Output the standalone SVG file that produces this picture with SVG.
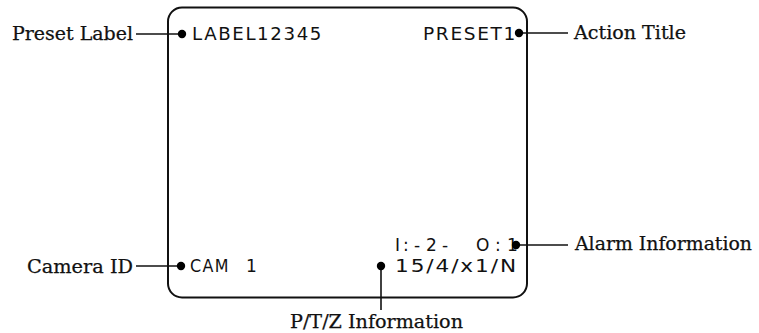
<svg xmlns="http://www.w3.org/2000/svg" width="759" height="333" viewBox="0 0 759 333">
<style>
.lbl{font-family:"DejaVu Serif","Liberation Serif",serif;font-size:18px;fill:#111;stroke:#111;stroke-width:0.25}
.osd{font-family:"DejaVu Sans","Liberation Sans",sans-serif;font-size:17px;fill:#111;letter-spacing:1.5px}
.ln{stroke:#111;stroke-width:1.6;fill:none}
.dot{fill:#000}
</style>
<rect id="screen" x="168" y="7.5" width="359" height="290" rx="14" ry="14" fill="#fff" stroke="#111" stroke-width="2"/>
<g id="connectors">
<line class="ln" x1="136" y1="34" x2="182" y2="34"/>
<line class="ln" x1="519" y1="33" x2="568" y2="33"/>
<line class="ln" x1="516" y1="245" x2="568" y2="245"/>
<line class="ln" x1="136" y1="266" x2="181" y2="266"/>
<line class="ln" x1="381" y1="266" x2="381" y2="310"/>
</g>
<g id="preset-label">
<text class="lbl" x="12" y="40" textLength="121" lengthAdjust="spacingAndGlyphs">Preset Label</text>
<circle class="dot" cx="182" cy="34" r="4.2"/>
<text class="osd" x="192" y="40" textLength="131" lengthAdjust="spacingAndGlyphs">LABEL12345</text>
</g>
<g id="action-title">
<text class="osd" x="423" y="40" textLength="94" lengthAdjust="spacingAndGlyphs">PRESET1</text>
<circle class="dot" cx="519" cy="33" r="4.2"/>
<text class="lbl" x="574" y="39" textLength="112" lengthAdjust="spacingAndGlyphs">Action Title</text>
</g>
<g id="alarm-info">
<text class="osd" style="letter-spacing:0" y="251" x="395 399 403 409 414 426 442 450 476 495 501 507">I : -2- O: 1</text>
<circle class="dot" cx="516" cy="245" r="4.2"/>
<text class="lbl" x="575" y="250" textLength="177" lengthAdjust="spacingAndGlyphs">Alarm Information</text>
</g>
<g id="camera-id">
<text class="lbl" x="27" y="273" textLength="106" lengthAdjust="spacingAndGlyphs">Camera ID</text>
<circle class="dot" cx="181" cy="266" r="4.2"/>
<text class="osd" x="190" y="272" textLength="40" lengthAdjust="spacingAndGlyphs">CAM</text>
<text class="osd" x="246" y="272">1</text>
</g>
<g id="ptz-info">
<circle class="dot" cx="381" cy="266" r="4.2"/>
<text class="osd" x="395" y="272" textLength="123" lengthAdjust="spacingAndGlyphs">15/4/x1/N</text>
<text class="lbl" x="290" y="328" textLength="173" lengthAdjust="spacingAndGlyphs">P/T/Z Information</text>
</g>
</svg>
